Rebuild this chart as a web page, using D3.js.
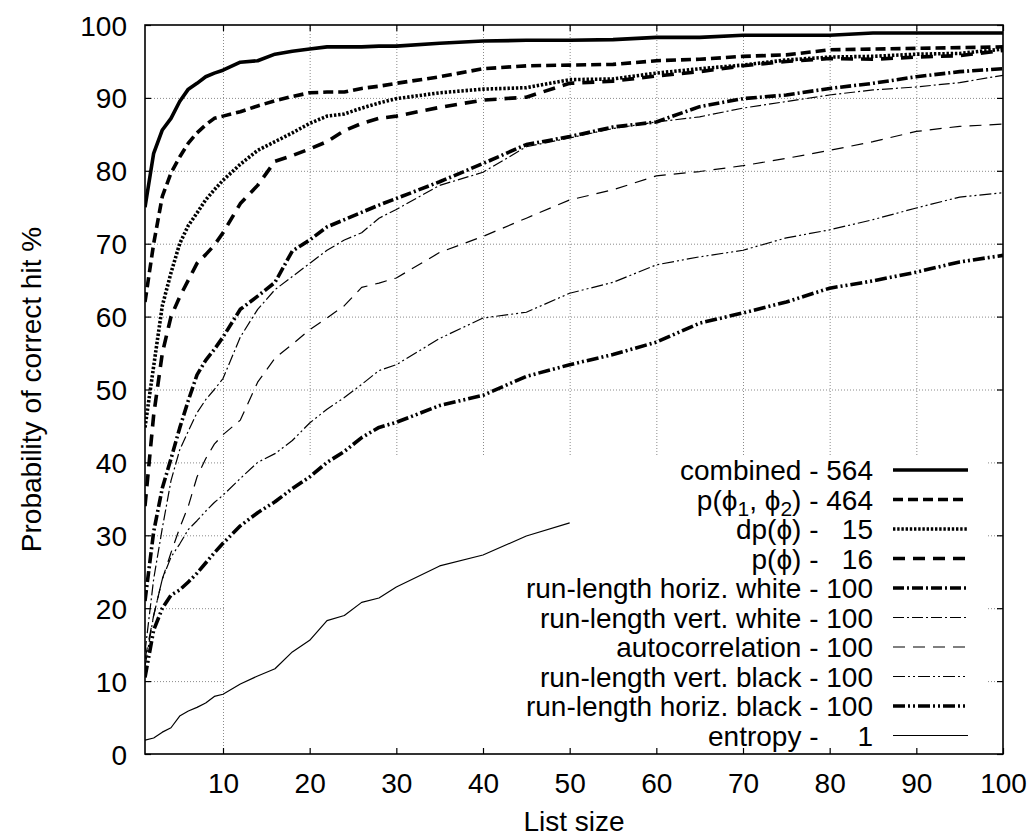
<!DOCTYPE html>
<html>
<head>
<meta charset="utf-8">
<script src="https://cdn.jsdelivr.net/npm/d3@7"></script>
<style>
  html, body { margin: 0; padding: 0; background: #fff; }
  svg { display: block; }
  text { font-family: "Liberation Sans", Arial, Helvetica, sans-serif; fill: #000; }
</style>
</head>
<body>
<svg id="chart" width="1033" height="839"></svg>
<script>
// ---------------- data ----------------
const xs = [1,2,3,4,5,6,7,8,9,10,12,14,16,18,20,22,24,26,28,30,35,40,45,50,55,60,65,70,75,80,85,90,95,100];

const combined = [75,82.4,85.6,87.2,89.5,91.2,92.0,92.9,93.4,93.8,94.9,95.1,96.0,96.4,96.7,97.0,97.0,97.0,97.1,97.1,97.5,97.8,97.9,97.9,98.0,98.3,98.3,98.6,98.6,98.6,98.9,98.9,98.9,98.9];
const pPhi12 = [62,70,76.5,79.7,81.9,83.8,85.2,86.3,87.2,87.5,88.1,88.9,89.6,90.2,90.7,90.8,90.8,91.3,91.6,92.0,92.9,94.0,94.4,94.5,94.6,95.1,95.3,95.7,95.9,96.6,96.7,96.8,96.9,97.0];
const dpPhi = [44.8,53.2,61.5,66,70.0,72.5,74.2,76,77.4,78.7,80.9,82.8,84.0,85.2,86.5,87.5,87.8,88.6,89.3,89.9,90.7,91.2,91.4,92.5,92.6,93.4,94.0,94.5,95.2,95.6,95.7,96.0,96.1,96.7];
const pPhi = [34,46.5,55,60,62.7,65,67.3,68.5,69.8,71.5,75.5,78,81.3,82.1,83.0,84,85.5,86.5,87.2,87.5,88.7,89.7,90.1,92.0,92.3,93.0,93.6,94.4,95.0,95.4,95.3,95.6,95.8,96.5];
const rlHorizWhite = [21,30.5,36.5,40.5,44.7,48.5,52,54,55.5,57.2,61,62.8,64.7,69,70.5,72.3,73.3,74.3,75.3,76.2,78.5,81.0,83.6,84.7,86.0,86.7,88.8,89.9,90.4,91.3,92.0,92.9,93.6,94.0];
const rlVertWhite = [14,24,31,37.5,41.7,44.3,46.8,48.6,50,51.5,57.2,61,63.7,65.5,67.3,69.1,70.5,71.5,73.5,74.7,78.0,79.8,83.3,84.5,85.8,86.7,87.4,88.6,89.5,90.4,91.1,91.5,92.1,93.1];
const autocorrelation = [13,19,24,27.6,31,34,38,40.5,42.5,43.8,45.8,51,54.3,56.2,58.2,59.8,61.5,64,64.6,65.3,68.8,71.0,73.5,76.0,77.4,79.3,79.9,80.7,81.7,82.8,84.0,85.4,86.1,86.4];
const rlVertBlack = [12,19,24,27,28.8,30.8,32,33.3,34.5,35.5,37.8,40,41.2,43,45.4,47.3,48.9,50.7,52.6,53.4,57,59.8,60.6,63.2,64.7,67.1,68.2,69.1,70.8,71.9,73.3,74.9,76.4,77.0];
const rlHorizBlack = [10.5,17,20,21.8,22.5,23.6,24.8,26.2,27.6,28.9,31.3,33.1,34.6,36.4,38.0,40,41.5,43.4,44.8,45.5,47.8,49.2,51.8,53.4,54.8,56.5,59.1,60.5,62.0,63.9,64.9,66.1,67.5,68.4];
const entropy = [1.9,2.2,3.0,3.6,5.2,5.9,6.4,7.0,7.9,8.2,9.6,10.7,11.7,14.0,15.6,18.3,19.0,20.8,21.4,22.9,25.8,27.3,29.9,31.7];

const seriesLabels = ["combined", "p(ϕ_1, ϕ_2)", "dp(ϕ)", "p(ϕ)", "run-length horiz. white",
  "run-length vert. white", "autocorrelation", "run-length vert. black", "run-length horiz. black", "entropy"];
const seriesCounts = [564, 464, 15, 16, 100, 100, 100, 100, 100, 1];
const xTicks = [10,20,30,40,50,60,70,80,90,100];
const yTicks = [0,10,20,30,40,50,60,70,80,90,100];
const xTitle = "List size";
const yTitle = "Probability of correct hit %";

// ---------------- styles ----------------
const THICK = 3.6, THIN = 1.2;
const styles = [
  { w: THICK, dash: null },
  { w: THICK, dash: "10,5" },
  { w: THICK, dash: "2.4,1.8" },
  { w: THICK, dash: "12,8" },
  { w: THICK, dash: "11,3,2,3" },
  { w: THIN,  dash: "11,3,2,3" },
  { w: THIN,  dash: "12,8" },
  { w: THIN,  dash: "12,3,2,3,2,3" },
  { w: THICK, dash: "12,3,2,3,2,3" },
  { w: THIN,  dash: null }
];
const valuesList = [combined, pPhi12, dpPhi, pPhi, rlHorizWhite, rlVertWhite, autocorrelation, rlVertBlack, rlHorizBlack, entropy];
const series = valuesList.map((vals, i) => ({
  label: seriesLabels[i], count: seriesCounts[i], style: styles[i],
  points: vals.map((v, j) => [xs[j], v])
}));

// ---------------- layout ----------------
const L = 145, R = 1003, T = 25, B = 754;
const FONT = 28;
const svg = d3.select("#chart");
const x = d3.scaleLinear().domain([1, 100]).range([L, R]);
const y = d3.scaleLinear().domain([0, 100]).range([B, T]);

// key area (grid is hidden behind it)
const keyBox = { x0: 224, x1: 987, y0: 455, y1: B };

const defs = svg.append("defs");
defs.append("clipPath").attr("id", "gridclip")
  .append("path")
  .attr("clip-rule", "evenodd")
  .attr("d", `M${L},${T}H${R}V${B}H${L}Z M${keyBox.x0},${keyBox.y0}H${keyBox.x1}V${keyBox.y1}H${keyBox.x0}Z`);
defs.append("clipPath").attr("id", "plotclip")
  .append("rect").attr("x", L).attr("y", T - 2).attr("width", R - L).attr("height", B - T + 2);

// grid
const grid = svg.append("g").attr("clip-path", "url(#gridclip)")
  .attr("stroke", "#8a8a8a").attr("stroke-width", 1).attr("stroke-dasharray", "1,2");
grid.selectAll("line.v").data(xTicks.filter(d => d < 100)).join("line")
  .attr("x1", d => x(d) + 0.5).attr("x2", d => x(d) + 0.5).attr("y1", T).attr("y2", B);
grid.selectAll("line.h").data(yTicks.filter(d => d > 0 && d < 100)).join("line").attr("class", "h")
  .attr("y1", d => y(d) + 0.5).attr("y2", d => y(d) + 0.5).attr("x1", L).attr("x2", R);

// axes (ticks inward, mirrored)
const TK = 6;
const axB = svg.append("g").attr("transform", `translate(0,${B})`)
  .call(d3.axisBottom(x).tickValues(xTicks).tickSize(-TK).tickPadding(19).tickFormat(d3.format("d")));
const axL = svg.append("g").attr("transform", `translate(${L},0)`)
  .call(d3.axisLeft(y).tickValues(yTicks).tickSize(-TK).tickPadding(18).tickFormat(d3.format("d")));
const axT = svg.append("g").attr("transform", `translate(0,${T})`)
  .call(d3.axisTop(x).tickValues(xTicks).tickSize(-TK).tickFormat(""));
const axR = svg.append("g").attr("transform", `translate(${R},0)`)
  .call(d3.axisRight(y).tickValues(yTicks).tickSize(-TK).tickFormat(""));
[axB, axL, axT, axR].forEach(g => {
  g.select(".domain").remove();
  g.selectAll("line").attr("stroke", "#000").attr("stroke-width", 1.2);
  g.selectAll("text").attr("font-size", FONT).attr("font-family", "Liberation Sans, Arial, sans-serif").attr("fill", "#000");
});
axL.selectAll("text").attr("dy", "0.36em");

// data lines
const line = d3.line().x(d => x(d[0])).y(d => y(d[1]));
const plotG = svg.append("g").attr("clip-path", "url(#plotclip)");
series.forEach(s => {
  plotG.append("path").datum(s.points)
    .attr("d", line)
    .attr("fill", "none").attr("stroke", "#000")
    .attr("stroke-width", s.style.w)
    .attr("stroke-linejoin", "round")
    .attr("stroke-dasharray", s.style.dash);
});

// border
svg.append("rect").attr("x", L).attr("y", T).attr("width", R - L).attr("height", B - T)
  .attr("fill", "none").attr("stroke", "#000").attr("stroke-width", 1.6);

// axis titles
svg.append("text").attr("x", (L + R) / 2).attr("y", 831).attr("text-anchor", "middle")
  .attr("font-size", FONT).text(xTitle);
svg.append("text").attr("transform", `translate(41,${(T + B) / 2}) rotate(-90)`).attr("text-anchor", "middle")
  .attr("font-size", FONT).text(yTitle);

// legend
const keyRight = 873, keyLine0 = 893, keyLine1 = 968, keyTop = 470, keyStep = 29.5;
const probe = svg.append("text").attr("font-size", FONT).attr("xml:space", "preserve").text(" 000");
const numW = probe.node().getComputedTextLength();
probe.remove();
const key = svg.append("g");
series.forEach((s, i) => {
  const cy = keyTop + i * keyStep;
  const t = key.append("text").attr("x", keyRight - numW).attr("y", cy + 10)
    .attr("text-anchor", "end").attr("font-size", FONT);
  const parts = s.label.split(/(_\d)/);
  let shifted = false;
  parts.forEach(p => {
    if (!p) return;
    if (p.startsWith("_")) {
      t.append("tspan").attr("font-size", 21).attr("dy", 6).text(p.slice(1));
      shifted = true;
    } else {
      const sp = t.append("tspan").text(p);
      if (shifted) { sp.attr("dy", -6); shifted = false; }
    }
  });
  t.append("tspan").text(" -");
  key.append("text").attr("x", keyRight).attr("y", cy + 10).attr("text-anchor", "end")
    .attr("font-size", FONT).text(s.count);
  key.append("line").attr("x1", keyLine0).attr("x2", keyLine1).attr("y1", cy).attr("y2", cy)
    .attr("stroke", "#000").attr("stroke-width", s.style.w).attr("stroke-dasharray", s.style.dash);
});
</script>
</body>
</html>
